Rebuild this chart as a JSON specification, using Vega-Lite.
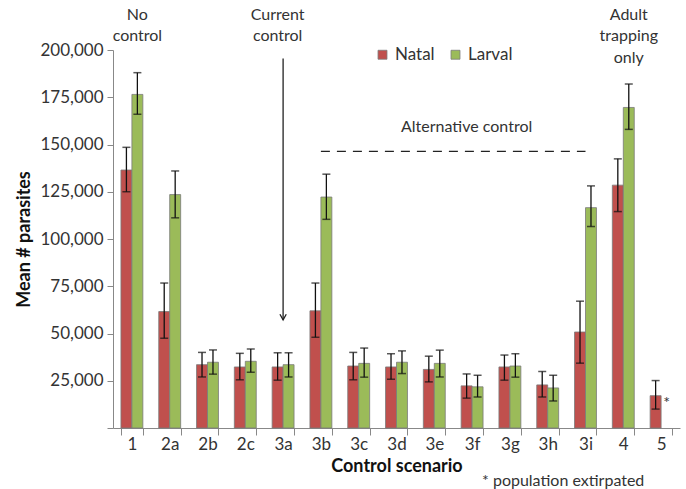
{
  "$schema": "https://vega.github.io/schema/vega-lite/v6.json",
  "width": 567,
  "height": 378,
  "autosize": "none",
  "padding": {"left": 113, "top": 50, "right": 6, "bottom": 61},
  "config": {"font": "Lato", "view": {"stroke": null}},
  "datasets": {
    "bars": [
      {"scenario": "1", "series": "Natal", "mean": 136500, "lo": 125000, "hi": 148500},
      {"scenario": "1", "series": "Larval", "mean": 176500, "lo": 166000, "hi": 188000},
      {"scenario": "2a", "series": "Natal", "mean": 61600, "lo": 47500, "hi": 76700},
      {"scenario": "2a", "series": "Larval", "mean": 123500, "lo": 111200, "hi": 136000},
      {"scenario": "2b", "series": "Natal", "mean": 33500, "lo": 27000, "hi": 40000},
      {"scenario": "2b", "series": "Larval", "mean": 34800, "lo": 28500, "hi": 41300},
      {"scenario": "2c", "series": "Natal", "mean": 32300, "lo": 25500, "hi": 39500},
      {"scenario": "2c", "series": "Larval", "mean": 35300, "lo": 29500, "hi": 41800},
      {"scenario": "3a", "series": "Natal", "mean": 32300, "lo": 25300, "hi": 39800},
      {"scenario": "3a", "series": "Larval", "mean": 33500, "lo": 27000, "hi": 39800},
      {"scenario": "3b", "series": "Natal", "mean": 62000, "lo": 48000, "hi": 76700},
      {"scenario": "3b", "series": "Larval", "mean": 122200, "lo": 110400, "hi": 134300},
      {"scenario": "3c", "series": "Natal", "mean": 32800, "lo": 25500, "hi": 40000},
      {"scenario": "3c", "series": "Larval", "mean": 34200, "lo": 26900, "hi": 42300},
      {"scenario": "3d", "series": "Natal", "mean": 32300, "lo": 25800, "hi": 39300},
      {"scenario": "3d", "series": "Larval", "mean": 34800, "lo": 28800, "hi": 40800},
      {"scenario": "3e", "series": "Natal", "mean": 31000, "lo": 24400, "hi": 38000},
      {"scenario": "3e", "series": "Larval", "mean": 34200, "lo": 27000, "hi": 41200},
      {"scenario": "3f", "series": "Natal", "mean": 22300, "lo": 15800, "hi": 28600},
      {"scenario": "3f", "series": "Larval", "mean": 21800, "lo": 16400, "hi": 27900},
      {"scenario": "3g", "series": "Natal", "mean": 32300, "lo": 25300, "hi": 38600},
      {"scenario": "3g", "series": "Larval", "mean": 32800, "lo": 26900, "hi": 39300},
      {"scenario": "3h", "series": "Natal", "mean": 22800, "lo": 16400, "hi": 29900},
      {"scenario": "3h", "series": "Larval", "mean": 21200, "lo": 14300, "hi": 27900},
      {"scenario": "3i", "series": "Natal", "mean": 50800, "lo": 34300, "hi": 67100},
      {"scenario": "3i", "series": "Larval", "mean": 116600, "lo": 106600, "hi": 128100},
      {"scenario": "4", "series": "Natal", "mean": 128500, "lo": 114500, "hi": 142400},
      {"scenario": "4", "series": "Larval", "mean": 169600, "lo": 158000, "hi": 182000},
      {"scenario": "5", "series": "Natal", "mean": 17100, "lo": 10000, "hi": 25100}
    ],
    "notes": [
      {"scenario": "1", "series": "Larval", "v": 218400, "t": "No"},
      {"scenario": "1", "series": "Larval", "v": 207200, "t": "control"},
      {"scenario": "3a", "series": "Natal", "v": 218400, "t": "Current"},
      {"scenario": "3a", "series": "Natal", "v": 207200, "t": "control"},
      {"scenario": "4", "series": "Larval", "v": 218400, "t": "Adult"},
      {"scenario": "4", "series": "Larval", "v": 207200, "t": "trapping"},
      {"scenario": "4", "series": "Larval", "v": 196000, "t": "only"},
      {"scenario": "3f", "series": "Natal", "v": 159500, "t": "Alternative  control"},
      {"scenario": "5", "series": "Larval", "v": 13000, "t": "*"}
    ],
    "arrow": [{"scenario": "3a", "top": 195500, "tip": 57200}],
    "dash": [{"from": "3b", "to": "3i", "v": 146400}],
    "foot": [{"scenario": "3h", "series": "Larval", "v": -28000, "t": "* population extirpated"}]
  },
  "layer": [
    {
      "data": {"name": "bars"},
      "mark": {"type": "bar", "stroke": "#7a7a7a", "strokeWidth": 0.8},
      "encoding": {
        "x": {
          "field": "scenario", "type": "nominal",
          "scale": {"domain": ["1","2a","2b","2c","3a","3b","3c","3d","3e","3f","3g","3h","3i","4","5"], "paddingInner": 0.42, "paddingOuter": 0.21},
          "axis": {"title": "Control scenario", "titleFontSize": 18, "titleFontWeight": "bold", "titleColor": "#111", "labelFontSize": 17, "labelColor": "#333", "labelAngle": 0, "domainColor": "#888", "tickColor": "#888", "tickBand": "extent", "tickSize": 7, "labelPadding": 1, "titlePadding": 5}
        },
        "xOffset": {"field": "series", "type": "nominal", "scale": {"domain": ["Natal", "Larval"]}},
        "y": {
          "field": "mean", "type": "quantitative",
          "scale": {"domain": [0, 200000], "nice": false},
          "axis": {"title": "Mean # parasites", "values": [0,25000,50000,75000,100000,125000,150000,175000,200000], "labelExpr": "datum.value == 0 ? '' : format(datum.value, ',')", "labelFontSize": 17, "labelColor": "#333", "titleFontSize": 18, "titleFontWeight": "bold", "titleColor": "#111", "grid": false, "domainColor": "#888", "tickColor": "#888", "tickSize": 6, "labelPadding": 4, "titlePadding": 6}
        },
        "color": {
          "field": "series", "type": "nominal",
          "scale": {"domain": ["Natal", "Larval"], "range": ["#c0504d", "#9bbb59"]},
          "legend": {"title": null, "orient": "none", "legendX": 261, "legendY": -4, "direction": "horizontal", "symbolType": "square", "symbolSize": 80, "symbolStrokeColor": "#7a7a7a", "symbolStrokeWidth": 0.8, "labelFontSize": 17, "labelColor": "#333", "columnPadding": 12}
        }
      }
    },
    {
      "data": {"name": "bars"},
      "mark": {"type": "rule", "color": "#111", "strokeWidth": 1.3},
      "encoding": {
        "x": {"field": "scenario", "type": "nominal"},
        "xOffset": {"field": "series", "type": "nominal"},
        "y": {"field": "lo", "type": "quantitative"},
        "y2": {"field": "hi"}
      }
    },
    {
      "data": {"name": "bars"},
      "mark": {"type": "tick", "color": "#111", "thickness": 1.5, "size": 8},
      "encoding": {
        "x": {"field": "scenario", "type": "nominal"},
        "xOffset": {"field": "series", "type": "nominal"},
        "y": {"field": "lo", "type": "quantitative"}
      }
    },
    {
      "data": {"name": "bars"},
      "mark": {"type": "tick", "color": "#111", "thickness": 1.5, "size": 8},
      "encoding": {
        "x": {"field": "scenario", "type": "nominal"},
        "xOffset": {"field": "series", "type": "nominal"},
        "y": {"field": "hi", "type": "quantitative"}
      }
    },
    {
      "data": {"name": "notes"},
      "mark": {"type": "text", "fontSize": 16, "color": "#333", "baseline": "middle"},
      "encoding": {
        "x": {"field": "scenario", "type": "nominal"},
        "xOffset": {"field": "series", "type": "nominal"},
        "y": {"field": "v", "type": "quantitative"},
        "text": {"field": "t"}
      }
    },
    {
      "data": {"name": "foot"},
      "mark": {"type": "text", "fontSize": 16, "color": "#333", "baseline": "middle", "dx": 10},
      "encoding": {
        "x": {"field": "scenario", "type": "nominal"},
        "xOffset": {"field": "series", "type": "nominal"},
        "y": {"field": "v", "type": "quantitative"},
        "text": {"field": "t"}
      }
    },
    {
      "data": {"name": "arrow"},
      "mark": {"type": "rule", "color": "#222", "strokeWidth": 1.3},
      "encoding": {
        "x": {"field": "scenario", "type": "nominal"},
        "y": {"field": "top", "type": "quantitative"},
        "y2": {"field": "tip"}
      }
    },
    {
      "data": {"name": "arrow"},
      "mark": {"type": "point", "shape": "M-1,-1.8L0,0L1,-1.8", "filled": false, "stroke": "#222", "strokeWidth": 1.3, "size": 40, "opacity": 1},
      "encoding": {
        "x": {"field": "scenario", "type": "nominal"},
        "y": {"field": "tip", "type": "quantitative"}
      }
    },
    {
      "data": {"name": "dash"},
      "mark": {"type": "rule", "color": "#222", "strokeWidth": 1.3, "strokeDash": [9, 7]},
      "encoding": {
        "x": {"field": "from", "type": "nominal"},
        "x2": {"field": "to"},
        "y": {"field": "v", "type": "quantitative"}
      }
    }
  ]
}
